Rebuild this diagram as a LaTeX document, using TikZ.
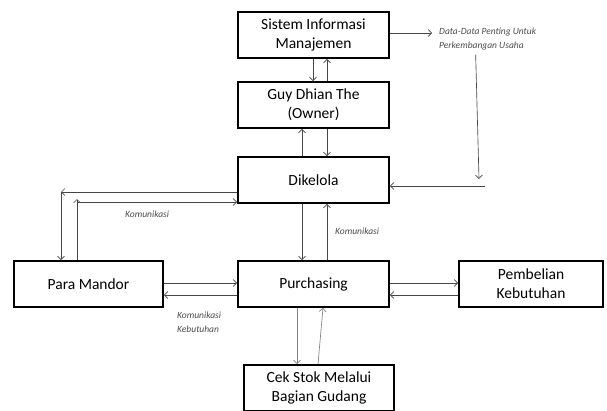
\documentclass[tikz,border=0pt]{standalone}
\usepackage{fontspec}
\setmainfont{Carlito}
\usetikzlibrary{arrows.meta}
\tikzset{
  line/.style={draw=black!72, line width=0.65pt},
  arr/.style={line, -{Straight Barb[length=3.5pt,width=7pt]}},
  note/.style={font=\fontsize{9.5}{14}\selectfont\itshape, text=black!70, align=left, inner sep=0pt}
}
\begin{document}
\begin{tikzpicture}[x=1pt,y=-1pt]
            \useasboundingbox (0,0) rectangle (607,410);
            \begin{scope}[every node/.style={draw,line width=1.7pt,minimum width=151pt,minimum height=46pt,align=center,inner sep=0pt,font=\fontsize{15.5}{19}\selectfont}]
                \node (SIM) at (313.5,35) {Sistem Informasi\\Manajemen};
                \node (OWN) at (313.5,105) {Guy Dhian The\\(Owner)};
                \node (DIK) at (313.5,180) {Dikelola};
                \node (PUR) at (313.5,284) {Purchasing};

                \node[minimum width=149pt] (MAN) at (88.5,284) {Para Mandor};

                \node[minimum width=144pt] (BEL) at (531,284) {Pembelian\\Kebutuhan};

                \node[minimum width=150pt] (CEK) at (319,388) {Cek Stok Melalui\\Bagian Gudang};
            \end{scope}
                \node[note,anchor=north west] (DATA) at (439,28) {Data-Data Penting Untuk\\Perkembangan Usaha};
                \node[note,anchor=west] (KOM1) at (335,231) {Komunikasi};
                \node[note,anchor=west] (KOM2) at (125,214) {Komunikasi};
                \node[note,anchor=north west] (KOM3) at (177,312) {Komunikasi\\Kebutuhan};

                \draw[arr] ([xshift=-0.5pt]SIM.south) -- ([xshift=-0.5pt]OWN.north);
                \draw[arr] ([xshift=13.5pt]OWN.north) -- ([xshift=13.5pt]SIM.south);
                \draw[arr] ([xshift=-11.5pt]DIK.north) -- ([xshift=-11.5pt]OWN.south);
                \draw[arr] ([xshift=13.5pt]OWN.south) -- ([xshift=13.5pt]DIK.north);
                \draw[arr] ([xshift=-11.5pt]DIK.south) -- ([xshift=-11.5pt]PUR.north);
                \draw[arr] ([xshift=13.5pt]PUR.north) -- ([xshift=13.5pt]DIK.south);

                \coordinate (SIMout) at (432,33);
                \draw[arr] (SIM.east |- SIMout) -- (SIMout);
                \coordinate (DOWNend) at (479,179);
                \draw[arr] ([xshift=-12pt,yshift=-4pt]DATA.south) -- (DOWNend);
                \coordinate (DIKin) at (485,186);
                \draw[arr] (DIKin) -- (DIK.east |- DIKin);

                \coordinate (L1) at (61,192);
                \draw[arr] (DIK.west |- L1) -- (L1);
                \draw[arr] (L1) -- (L1 |- MAN.north);
                \coordinate (L2) at (77,199);
                \draw[arr] (L2 |- MAN.north) -- (L2);
                \coordinate (L3) at (77,202);
                \draw[arr] (L3) -- (DIK.west |- L3);

                \draw[arr] ([yshift=1pt]MAN.east) -- ([yshift=1pt]PUR.west);
                \draw[arr] ([yshift=-11pt]PUR.west) -- ([yshift=-11pt]MAN.east);
                \draw[arr] ([yshift=1pt]PUR.east) -- ([yshift=1pt]BEL.west);
                \draw[arr] ([yshift=-11pt]BEL.west) -- ([yshift=-11pt]PUR.east);

                \draw[arr,draw=black!50] ([xshift=-16.5pt]PUR.south) -- ([xshift=-22pt]CEK.north);
                \draw[arr,draw=black!50] ([xshift=-1pt]CEK.north) -- ([xshift=9.5pt]PUR.south);
            \end{tikzpicture}
\end{document}
